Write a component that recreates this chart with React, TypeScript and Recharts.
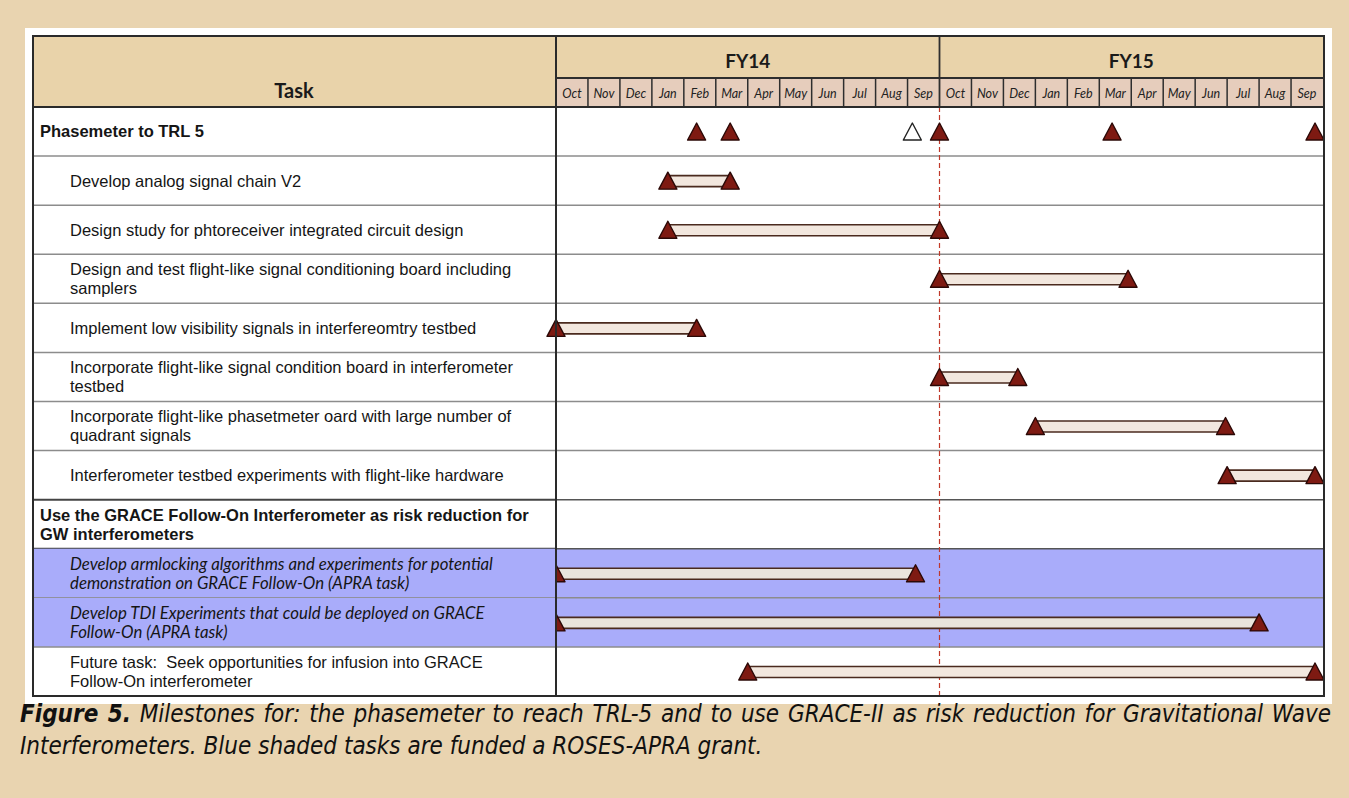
import React from 'react';
import { ComposedChart, XAxis, YAxis, Scatter, ReferenceLine, ReferenceArea } from 'recharts';

// months from Oct 2013 (start of FY14), two fiscal years
const months = [
  'Oct', 'Nov', 'Dec', 'Jan', 'Feb', 'Mar', 'Apr', 'May', 'Jun', 'Jul', 'Aug', 'Sep',
  'Oct', 'Nov', 'Dec', 'Jan', 'Feb', 'Mar', 'Apr', 'May', 'Jun', 'Jul', 'Aug', 'Sep',
];
const fiscalYears = ['FY14', 'FY15'];

const taskLabels = [
  'Phasemeter to TRL 5',
  'Develop analog signal chain V2',
  'Design study for phtoreceiver integrated circuit design',
  'Design and test flight-like signal conditioning board including\nsamplers',
  'Implement low visibility signals in interfereomtry testbed',
  'Incorporate flight-like signal condition board in interferometer\ntestbed',
  'Incorporate flight-like phasetmeter oard with large number of\nquadrant signals',
  'Interferometer testbed experiments with flight-like hardware',
  'Use the GRACE Follow-On Interferometer as risk reduction for\nGW interferometers',
  'Develop armlocking algorithms and experiments for potential\ndemonstration on GRACE Follow-On (APRA task)',
  'Develop TDI Experiments that could be deployed on GRACE\nFollow-On (APRA task)',
  'Future task:  Seek opportunities for infusion into GRACE\nFollow-On interferometer',
];
const taskKinds = ['group', 'task', 'task', 'task', 'task', 'task', 'task', 'task', 'group', 'apra', 'apra', 'task'];

// start / end in months since Oct 2013
const taskStart = [null, 3.5, 3.5, 12, 0, 12, 15, 21, null, 0, 0, 6];
const taskEnd = [null, 5.45, 12, 17.9, 4.4, 14.45, 20.95, 23.75, null, 11.25, 22, 23.75];

// milestones of "Phasemeter to TRL 5"
const milestoneMonths = [4.4, 5.45, 11.15, 12, 17.4, 23.75];
const milestoneOpen = [false, false, true, false, false, false];

const PAGE_BG = '#e9d4b0';
const HEAD_BG = '#e9d3aa';
const MONTH_BG = '#e6cdbc';
const BLUE = '#a9acfa';
const LABEL_W = 524;
const PLOT_W = 767;
const PLOT_H = 589;
const HEAD_H = 70;
const MONTH_H = 29;
const MONTH_W = PLOT_W / 24;
const ROW_H = PLOT_H / taskLabels.length;

const monthTicks = months.map((_, i) => i + 0.5);
const rowTicks = taskLabels.map((_, i) => i + 0.5);

const milestoneData = milestoneMonths.map((m, k) => ({ x: m, y: 0.5, open: milestoneOpen[k] }));
const spanRows = taskLabels.map((_, i) => i).filter((i) => taskStart[i] != null);

const Triangle = (p: any) => {
  const { cx, cy } = p;
  if (cx == null || cy == null) return null;
  const open = p.payload?.open ?? p.open;
  return (
    <polygon
      points={`${cx},${cy - 8.5} ${cx - 9},${cy + 8.5} ${cx + 9},${cy + 8.5}`}
      fill={open ? '#ffffff' : '#7e1a12'}
      stroke={open ? '#222' : '#2b0806'}
      strokeWidth={1.4}
      strokeLinejoin="round"
    />
  );
};

const BarSpan = (p: any) => {
  const pts = p.points;
  if (!pts || pts.length < 2) return null;
  const x1 = pts[0].x;
  const x2 = pts[1].x;
  const y = pts[0].y;
  return (
    <g>
      <rect x={x1} y={y - 5} width={x2 - x1} height={11} fill={p.barFill} />
      <line x1={x1} x2={x2} y1={y - 5} y2={y - 5} stroke="#4a2a1e" strokeWidth={1.6} />
      <line x1={x1} x2={x2} y1={y + 6} y2={y + 6} stroke="#4a2a1e" strokeWidth={1.6} />
    </g>
  );
};

// month cell + fiscal year label above it
const MonthTick = (p: any) => {
  const { x, y, payload } = p;
  const i = Math.floor(payload.value);
  const left = x - MONTH_W / 2;
  return (
    <g>
      {i > 0 && i !== 12 && (
        <line x1={left} x2={left} y1={y - MONTH_H} y2={y} stroke="#2e2e2e" strokeWidth={1.5} />
      )}
      {i === 12 && <line x1={left} x2={left} y1={y - HEAD_H - 2} y2={y} stroke="#2e2e2e" strokeWidth={1.8} />}
      <text x={x} y={y - 9} textAnchor="middle" fontFamily="Lato" fontStyle="italic" fontSize={12.5} fill="#222">
        {months[i]}
      </text>
      {i % 12 === 5 && (
        <text
          x={x + MONTH_W / 2}
          y={y - 39}
          textAnchor="middle"
          fontFamily="Lato"
          fontWeight={700}
          fontSize={19}
          fill="#1a1a1a"
        >
          {fiscalYears[Math.floor(i / 12)]}
        </text>
      )}
    </g>
  );
};

const TaskTick = (p: any) => {
  const { x, y, payload } = p;
  const i = Math.floor(payload.value);
  const kind = taskKinds[i];
  const lines = taskLabels[i].split('\n');
  const left = x - LABEL_W;
  const top = y - ROW_H / 2;
  const indent = kind === 'group' ? 8 : 38;
  const font =
    kind === 'apra'
      ? { fontFamily: 'Lato', fontStyle: 'italic' as const, fontSize: 16.8, fontWeight: 400 }
      : { fontFamily: '"Liberation Sans", Arial', fontStyle: 'normal' as const, fontSize: 16.5, fontWeight: kind === 'group' ? 700 : 400 };
  const darker = i === 7 || i === 8;
  return (
    <g>
      {kind === 'apra' && <rect x={left} y={top} width={LABEL_W} height={ROW_H} fill={BLUE} />}
      {i < taskLabels.length - 1 && (
        <line
          x1={left}
          x2={x}
          y1={top + ROW_H}
          y2={top + ROW_H}
          stroke={darker ? '#444' : '#8c8c8c'}
          strokeWidth={darker ? 2 : 1.5}
        />
      )}
      <text
        fill="#151515"
        fontFamily={font.fontFamily}
        fontStyle={font.fontStyle}
        fontSize={font.fontSize}
        fontWeight={font.fontWeight}
        style={{ whiteSpace: 'pre' }}
      >
        {lines.map((l, k) => (
          <tspan key={k} x={left + indent} y={y + (k - (lines.length - 1) / 2) * 19} dy="0.36em">
            {l}
          </tspan>
        ))}
      </text>
    </g>
  );
};

const abs = (l: number, t: number, w: number, h: number, extra: React.CSSProperties = {}): React.CSSProperties => ({
  position: 'absolute',
  left: l,
  top: t,
  width: w,
  height: h,
  boxSizing: 'border-box',
  ...extra,
});

const captionFont: React.CSSProperties = {
  fontFamily: '"DejaVu Sans Condensed", "Liberation Sans Narrow", sans-serif',
  fontStretch: 'condensed',
  fontStyle: 'italic',
  fontSize: 24,
  lineHeight: '32px',
  color: '#111',
  whiteSpace: 'normal',
};

export default function App() {
  return (
    <div style={{ position: 'absolute', left: 0, top: 0, width: 1349, height: 798, background: PAGE_BG, overflow: 'hidden' }}>
      {/* table backgrounds */}
      <div style={abs(25, 28, 1307, 676, { background: '#fff' })} />
      <div style={abs(32, 35, 1293, 662, { background: '#fff' })} />
      <div style={abs(32, 35, 524, 72, { background: HEAD_BG })} />
      <div style={abs(556, 35, 769, 43, { background: HEAD_BG })} />
      <div style={abs(556, 78, 769, 29, { background: MONTH_BG })} />
      <div
        style={abs(32, 35, 524, 72, {
          display: 'flex',
          alignItems: 'flex-end',
          justifyContent: 'center',
          paddingBottom: 5,
          fontFamily: 'Lato',
          fontWeight: 700,
          fontSize: 20,
          color: '#1a1a1a',
        })}
      >
        Task
      </div>

      <div style={{ position: 'absolute', left: 0, top: 0 }}>
        <ComposedChart width={1349} height={798} margin={{ top: 37, right: 26, bottom: 102, left: 32 }}>
          <XAxis
            xAxisId="m"
            type="number"
            dataKey="x"
            domain={[0, 24]}
            orientation="top"
            ticks={monthTicks}
            interval={0}
            height={HEAD_H}
            tickSize={0}
            tickMargin={0}
            tickLine={false}
            axisLine={false}
            tick={<MonthTick />}
          />
          <YAxis
            type="number"
            dataKey="y"
            domain={[0, taskLabels.length]}
            reversed
            ticks={rowTicks}
            interval={0}
            width={LABEL_W}
            tickSize={0}
            tickMargin={0}
            tickLine={false}
            axisLine={false}
            tick={<TaskTick />}
          />
          {taskKinds.map((k, i) =>
            k === 'apra' ? (
              <ReferenceArea
                key={`a${i}`}
                xAxisId="m"
                x1={0}
                x2={24}
                y1={i}
                y2={i + 1}
                fill={BLUE}
                fillOpacity={1}
                stroke="none"
              />
            ) : null
          )}
          {taskLabels.slice(1).map((_, i) => (
            <ReferenceLine
              key={`r${i}`}
              xAxisId="m"
              y={i + 1}
              stroke={i + 1 === 9 || i + 1 === 8 ? '#555' : '#8c8c8c'}
              strokeWidth={1.5}
            />
          ))}
          <ReferenceLine xAxisId="m" x={12} stroke="#c0392b" strokeWidth={1.2} strokeDasharray="5 3" />
          {spanRows.map((i) => (
            <Scatter
              key={`s${i}`}
              xAxisId="m"
              data={[
                { x: taskStart[i], y: i + 0.5 },
                { x: taskEnd[i], y: i + 0.5 },
              ]}
              line={<BarSpan barFill={taskKinds[i] === 'apra' ? '#e9e4dc' : '#f2e7de'} />}
              shape={Triangle}
              isAnimationActive={false}
            />
          ))}
          <Scatter xAxisId="m" data={milestoneData} shape={Triangle} isAnimationActive={false} />
        </ComposedChart>
      </div>

      {/* table frame */}
      <div style={abs(32, 35, 1293, 662, { border: '2px solid #2a2a2a', pointerEvents: 'none' })} />
      <div style={abs(555, 35, 2, 662, { background: '#2a2a2a' })} />
      <div style={abs(32, 106, 1293, 2, { background: '#2a2a2a' })} />
      <div style={abs(556, 77, 769, 1.5, { background: '#2e2e2e' })} />

      {/* caption */}
      <div style={abs(20, 698, 1311, 32, { ...captionFont, textAlign: 'justify', textAlignLast: 'justify' })}>
        <b>Figure 5.</b> Milestones for: the phasemeter to reach TRL-5 and to use GRACE-II as risk reduction for Gravitational Wave
      </div>
      <div style={abs(20, 730, 1311, 32, captionFont)}>
        Interferometers. Blue shaded tasks are funded a ROSES-APRA grant.
      </div>
    </div>
  );
}
